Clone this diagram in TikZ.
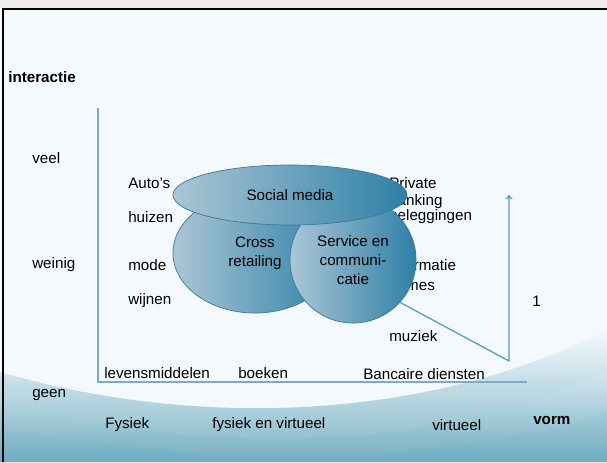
\documentclass[tikz,border=0pt]{standalone}
\usepackage{fontspec}
\setmainfont{Liberation Sans}
\usepackage{tikz}
\usepackage{xcolor}
\usetikzlibrary{shapes.geometric,arrows.meta}
\definecolor{Fond}{HTML}{F3F9FC}
\definecolor{VagueClair}{HTML}{DCEDF3}
\definecolor{VagueFonce}{HTML}{6AA8BD}
\definecolor{AxeBleu}{HTML}{7EACC8}
\definecolor{FlecheBleu}{HTML}{5A9BBD}
\definecolor{BulleClair}{HTML}{ABC6D6}
\definecolor{BulleFonce}{HTML}{2E80A6}
\definecolor{BulleBord}{HTML}{3A7898}
\tikzset{
Axe/.style={
 draw=AxeBleu, 
 line width=1.1pt
 },
Fleche/.style={
 draw=FlecheBleu, 
 line width=0.9pt, 
 -{To[length=3pt,width=5pt]}
 },
Bulle/.style={
 ellipse, 
 draw=BulleBord, 
 line width=0.5pt, 
 left color=BulleClair, 
 right color=BulleFonce, 
 inner sep=0pt, 
 align=center, 
 font=\fontsize{10.8}{13.5}\selectfont
 },
Texte/.style={
 anchor=west, 
 inner sep=0pt, 
 font=\fontsize{10.8}{13.5}\selectfont
 },
Titre/.style={
 Texte, 
 font=\fontsize{10.8}{13.5}\selectfont\bfseries
 }
}
\begin{document}
\begin{tikzpicture}[x=0.025cm,y=-0.025cm]
\useasboundingbox (0,0) rectangle (607,462);
% fond et vagues
\fill[Fond] (0,0) rectangle (607,462);
\fill[white!93!black] (0,0) rectangle (607,8);
\shade[top color=Fond, bottom color=VagueFonce!85!Fond] (0,372) .. controls (200,430) and (430,420) .. (607,330) -- (607,462) -- (0,462) -- cycle;
\shade[top color=VagueClair, bottom color=VagueFonce, opacity=0.55] (0,400) .. controls (220,460) and (430,450) .. (607,372) -- (607,462) -- (0,462) -- cycle;
\shade[top color=VagueClair!50!VagueFonce, bottom color=VagueFonce, opacity=0.8] (0,428) .. controls (220,468) and (430,468) .. (607,412) -- (607,462) -- (0,462) -- cycle;
\draw[line width=1.6pt] (3,462) -- (3,9) -- (607,9);
% axes
\coordinate (haut) at (98,108);
\coordinate (orig) at (98,382);
\coordinate (droite) at (527,382);
\draw[Axe] (haut) -- (orig) -- (droite);
% etiquettes
\node[Titre] (interactie) at (8,77) {interactie};
\node[Texte] (veel) at (32,158) {veel};
\node[Texte] (weinig) at (32,265) {weinig};
\node[Texte] (geen) at (32,395) {geen};
\node[Texte] (autos) at (128,183) {Auto’s};
\node[Texte] (huizen) at (128,217) {huizen};
\node[Texte] (mode) at (128,265) {mode};
\node[Texte] (wijnen) at (128,301) {wijnen};
\node[Texte] (private) at (389,183) {Private};
\node[Texte] (banking) at (389,202) {banking};
\node[Texte] (beleggingen) at (389,217) {beleggingen};
\node[Texte] (informatie) at (389,265) {informatie};
\node[Texte] (games) at (389,288) {games};
\node[Texte] (muziek) at (389,336) {muziek};
\node[Texte] (een) at (532,301) {1};
\node[Texte] (levens) at (104,373) {levensmiddelen};
\node[Texte] (boeken) at (238,373) {boeken};
\node[Texte] (bancaire) at (363,374) {Bancaire diensten};
\node[Texte] (fysiek) at (105,425) {Fysiek};
\node[Texte] (fysvirt) at (212,425) {fysiek en virtueel};
\node[Texte] (virtueel) at (432,425) {virtueel};
\node[Titre] (vorm) at (533,420) {vorm};
% bulles
\node[Bulle, minimum width=4.1cm, minimum height=3.0cm] (cross) at (255,253) {Cross\\retailing};
\node[Bulle, minimum width=3.15cm, minimum height=3.15cm] (serv) at (353,260) {Service en\\communi-\\catie};
\node[Bulle, minimum width=5.85cm, minimum height=1.5cm] (social) at (290,195) {Social media};
% fleche
\coordinate (coin) at (509,361);
\coordinate (pointe) at (509,195);
\draw[Fleche] (serv.-42) -- (coin) -- (pointe);
\end{tikzpicture}
\end{document}
